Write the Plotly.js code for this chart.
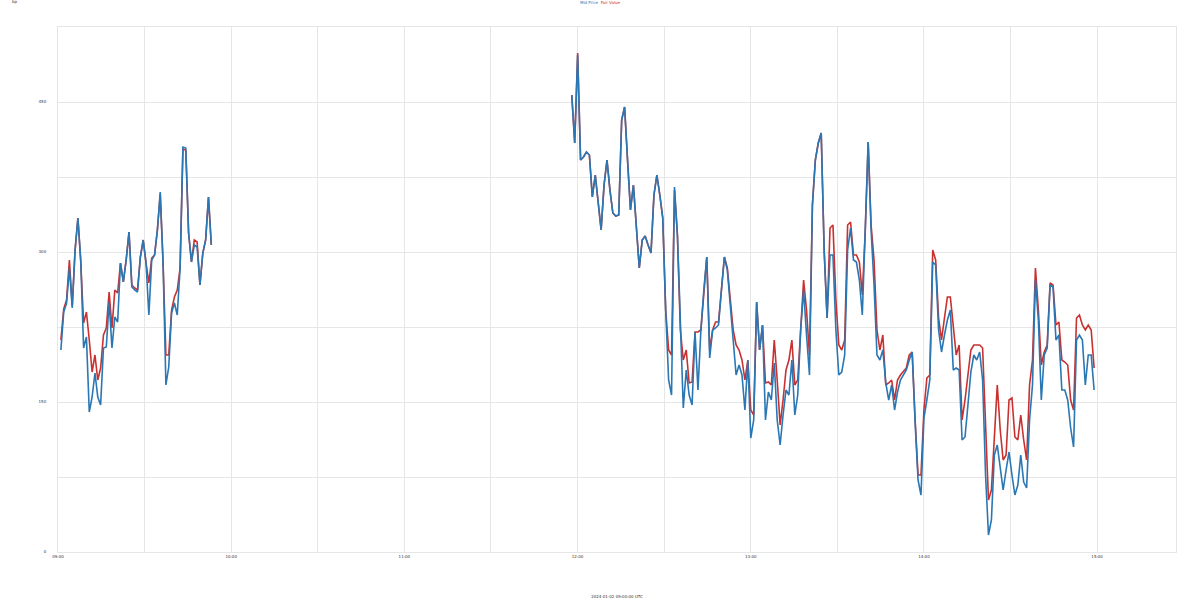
<!DOCTYPE html>
<html>
<head>
<meta charset="utf-8">
<script src="https://cdn.plot.ly/plotly-3.0.1.min.js"></script>
<style>html,body{margin:0;padding:0;background:#fff;}#chart{width:1200px;height:600px;}</style>
</head>
<body>
<div id="chart"></div>
<script>
// ---- data ----
const day = '2024-01-02';
const leftStart = '09:01:00';
const rightStart = '11:58:00';
const leftStepSec = 59;
const rightStepSec = 61;

const leftBlue = [202,240,249,284,244,302,334,292,204,215,140,155,179,155,147,204,205,250,204,235,230,289,270,292,320,265,262,260,295,312,289,237,292,297,322,360,289,167,185,239,249,237,284,405,404,319,290,307,305,267,299,312,355,307];
const leftRed  = [212,243,252,292,246,302,334,290,229,240,212,180,197,172,184,217,224,260,224,262,259,289,270,292,320,267,264,262,295,312,289,269,294,297,322,358,289,197,197,242,255,262,284,403,402,319,290,312,310,267,299,312,355,307];

const rightBlue = [457,409,497,392,395,400,397,355,377,347,322,367,392,362,339,336,337,432,445,392,342,367,322,284,312,316,307,299,357,377,357,334,
242,172,157,365,317,222,144,182,157,147,220,162,222,262,295,194,222,224,227,262,295,282,242,212,177,187,177,142,192,114,132,250,202,227,132,160,152,189,132,107,137,162,157,192,137,157,222,262,217,177,
347,392,409,419,302,234,297,297,222,177,180,197,302,324,292,290,272,237,322,410,322,267,197,192,202,169,152,167,142,160,172,177,182,192,200,130,72,57,134,152,172,290,287,222,200,217,232,242,182,184,182,112,115,147,180,197,192,200,172,
77,17,32,97,107,87,62,82,100,77,57,67,97,70,64,132,167,272,232,152,197,204,267,265,212,217,162,162,152,124,105,212,217,212,167,197,197,162];
const rightRed = [457,409,499,392,395,400,397,355,377,347,322,367,392,362,339,336,337,432,445,392,342,367,322,284,312,316,307,299,357,377,357,334,
242,202,197,362,317,222,192,202,169,170,220,220,222,262,295,202,222,230,230,262,295,284,252,222,207,202,192,172,192,142,137,250,202,227,169,170,167,212,172,127,152,182,192,212,167,172,222,272,242,197,
347,392,409,419,302,234,324,327,252,207,202,212,327,330,297,297,290,257,320,410,327,292,222,202,217,167,169,172,152,172,177,180,184,197,200,132,77,77,142,174,177,302,292,234,212,234,255,255,222,197,207,132,152,180,202,207,207,207,204,
122,52,62,122,167,122,92,97,152,154,115,112,137,112,92,167,192,284,242,187,200,207,269,267,227,230,192,190,187,152,142,234,237,227,222,227,222,184];

const yTicks = [0,150,300,450];
const legendNames = ['Mid Price', 'Fair Value'];
const xTitle = '2024-01-02 09:00:00 UTC';
const yUnit = 'bp';

// ---- build series ----
function times(startHHMMSS, n, stepSec){
  const t0 = new Date(day + 'T' + startHHMMSS + 'Z').getTime();
  const out = [];
  for (let i = 0; i < n; i++) {
    const d = new Date(t0 + i * stepSec * 1000);
    out.push(d.toISOString().replace('T',' ').slice(0,19));
  }
  return out;
}
const xL = times(leftStart, leftBlue.length, leftStepSec);
const xR = times(rightStart, rightBlue.length, rightStepSec);
const xs = xL.concat([null], xR);
const blue = leftBlue.concat([null], rightBlue);
const red = leftRed.concat([null], rightRed);

const BLUE = '#2a77b4', RED = '#c8312f', GRID = '#e6e6e6', TXT = '#333';

const traces = [
  {x: xs, y: red, type: 'scatter', mode: 'lines', name: legendNames[1], line: {color: RED, width: 1.6}, connectgaps: false},
  {x: xs, y: blue, type: 'scatter', mode: 'lines', name: legendNames[0], line: {color: BLUE, width: 1.6}, connectgaps: false}
];

const layout = {
  width: 1200, height: 600,
  margin: {l: 58, r: 24, t: 27, b: 48},
  paper_bgcolor: '#fff', plot_bgcolor: '#fff',
  showlegend: false,
  font: {family: 'DejaVu Sans', size: 4, color: TXT},
  title: {
    text: '<span style="color:' + BLUE + '">' + legendNames[0] + '</span>  <span style="color:' + RED + '">' + legendNames[1] + '</span>',
    x: 0.5, xanchor: 'center', y: 0.998, yanchor: 'top',
    font: {size: 4}
  },
  xaxis: {
    type: 'date',
    range: [day + ' 09:00:00', day + ' 15:27:20'],
    tick0: day + ' 09:00:00', dtick: 3600000, tickformat: '%H:%M',
    showgrid: true, gridcolor: GRID, gridwidth: 1,
    minor: {dtick: 1800000, showgrid: true, gridcolor: GRID, gridwidth: 1},
    showline: true, linecolor: GRID, mirror: true,
    zeroline: false, ticks: '',
    tickfont: {size: 4, color: TXT},
    title: {text: xTitle, font: {size: 4, color: TXT}, standoff: 37},
    automargin: false
  },
  yaxis: {
    range: [0, 525],
    tickvals: yTicks, ticktext: yTicks.map(String),
    showgrid: true, gridcolor: GRID, gridwidth: 1,
    minor: {dtick: 75, showgrid: true, gridcolor: GRID, gridwidth: 1},
    showline: true, linecolor: GRID, mirror: true,
    zeroline: false, ticks: '',
    tickfont: {size: 4, color: TXT},
    ticklabelstandoff: 10,
    automargin: false
  },
  annotations: [
    {text: yUnit, xref: 'paper', yref: 'paper', x: -0.043, y: 1.057, xanchor: 'left', yanchor: 'top', showarrow: false, font: {size: 4, color: TXT}}
  ]
};

Plotly.newPlot('chart', traces, layout, {displayModeBar: false, staticPlot: true});
</script>
</body>
</html>
